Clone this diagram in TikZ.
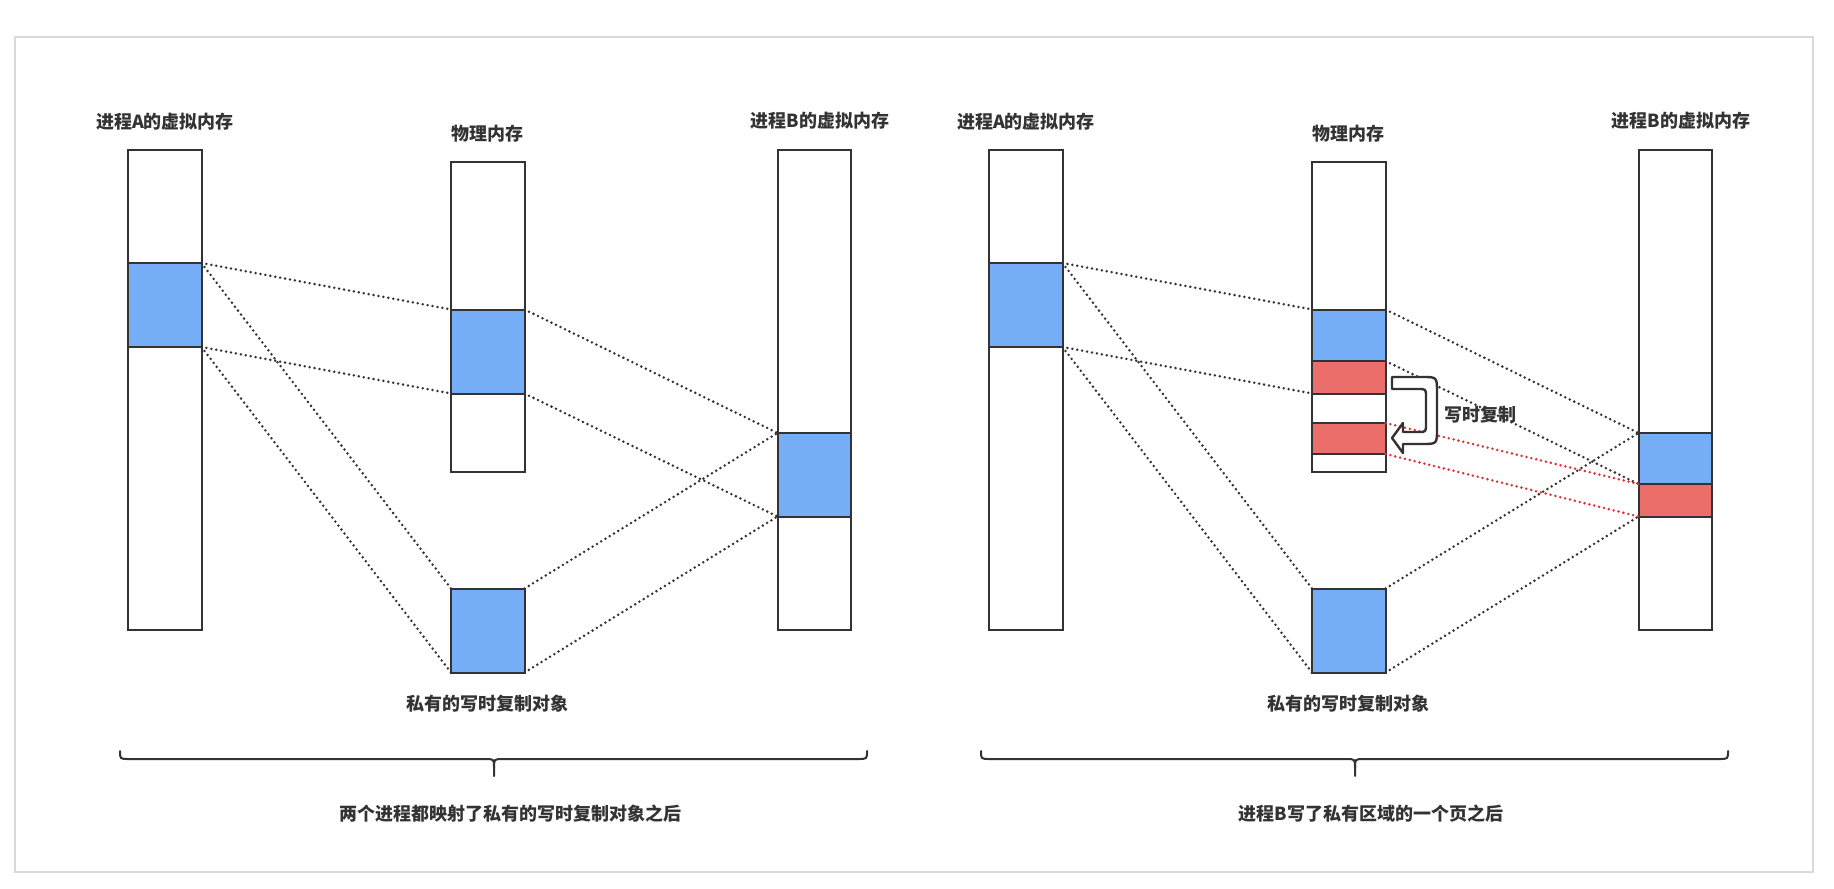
\documentclass[tikz,border=0pt]{standalone}
\usepackage{fontspec}
\setmainfont{Noto Sans CJK SC}
\definecolor{linea}{HTML}{333333}
\definecolor{blu}{HTML}{75AEF7}
\definecolor{rosso}{HTML}{EC6E6B}
\definecolor{rossopunti}{HTML}{D9362F}
\definecolor{bordo}{HTML}{DADADA}

\begin{document}
\begin{tikzpicture}[
    x=0.5pt, y=-0.5pt,
    cella/.style={draw=linea, fill=white, line width=1pt, minimum width=36.75pt, inner sep=0pt, outer sep=0pt},
    pieno/.style={cella, fill=blu},
    scritto/.style={cella, fill=rosso},
    punti/.style={draw=linea, line width=1.4pt, line cap=round, dash pattern=on 0pt off 2.5pt},
    puntirossi/.style={punti, draw=rossopunti},
    etichetta/.style={font=\fontsize{9}{11}\selectfont\bfseries, text=linea, inner sep=0pt},
    graffa/.style={draw=linea, line width=1pt, line cap=round},
    freccia/.style={draw=linea, fill=white, line width=1.2pt, line join=round}
]
    \useasboundingbox (0,0) rectangle (1834,888);

    % 1. Cornice
    \draw[bordo, line width=0.6pt] (15,37) rectangle (1813,872);

    % 2. Pannello sinistro: memorie
    \node[cella, minimum height=239.75pt] (VA1) at (164.75,389.75) {};
    \node[pieno, minimum height=42pt]     (A1)  at (164.75,305) {};
    \node[cella, minimum height=155pt]    (FM1) at (487.75,317) {};
    \node[pieno, minimum height=42pt]     (P1)  at (487.75,351.5) {};
    \node[pieno, minimum height=42pt]     (O1)  at (487.75,630.5) {};
    \node[cella, minimum height=239.75pt] (VB1) at (814.25,389.75) {};
    \node[pieno, minimum height=41.75pt]  (B1)  at (814.25,474.75) {};

    % etichette
    \node[etichetta] (tA1) at (165,122)   {进程A的虚拟内存};
    \node[etichetta] (tF1) at (487.5,134) {物理内存};
    \node[etichetta] (tB1) at (820,121)   {进程B的虚拟内存};
    \node[etichetta] (tO1) at (487.5,704) {私有的写时复制对象};
    \node[etichetta] (tD1) at (510,814)   {两个进程都映射了私有的写时复制对象之后};

    % mappature
    \draw[punti] (A1.north east) -- (P1.north west);
    \draw[punti] (A1.south east) -- (P1.south west);
    \draw[punti] (A1.north east) -- (O1.north west);
    \draw[punti] (A1.south east) -- (O1.south west);
    \draw[punti] (P1.north east) -- (B1.north west);
    \draw[punti] (P1.south east) -- (B1.south west);
    \draw[punti] (O1.north east) -- (B1.north west);
    \draw[punti] (O1.south east) -- (B1.south west);

    % graffa
    \draw[graffa] (120,751) .. controls (120,759) .. (129,759) -- (485,759)
        .. controls (494,759) .. (494,768) -- (494,776);
    \draw[graffa] (494,768) .. controls (494,759) .. (503,759) -- (858,759)
        .. controls (867,759) .. (867,751);

    % 3. Pannello destro: dopo la scrittura di B
    \node[cella, minimum height=239.75pt] (VA2) at (1025.75,389.75) {};
    \node[pieno, minimum height=42pt]     (A2)  at (1025.75,305) {};
    \node[cella, minimum height=155pt]    (FM2) at (1348.75,317) {};
    \node[pieno, minimum height=25.75pt]  (P2)  at (1348.75,335.25) {};
    \node[scritto, minimum height=16.25pt] (R2) at (1348.75,377.25) {};
    \node[scritto, minimum height=15.5pt]  (C2) at (1348.75,438.5) {};
    \node[pieno, minimum height=42pt]     (O2)  at (1348.75,630.5) {};
    \node[cella, minimum height=239.75pt] (VB2) at (1675.25,389.75) {};
    \node[pieno, minimum height=25.5pt]   (B2)  at (1675.25,458.5) {};
    \node[scritto, minimum height=16.25pt] (S2) at (1675.25,500.25) {};

    % etichette
    \node[etichetta] (tA2) at (1026,122)   {进程A的虚拟内存};
    \node[etichetta] (tF2) at (1348.5,134) {物理内存};
    \node[etichetta] (tB2) at (1681,121)   {进程B的虚拟内存};
    \node[etichetta] (tO2) at (1348.5,704) {私有的写时复制对象};
    \node[etichetta] (tD2) at (1371,814)   {进程B写了私有区域的一个页之后};
    \node[etichetta, anchor=west] (tC2) at (1444,415) {写时复制};

    % mappature
    \draw[punti] (A2.north east) -- (P2.north west);
    \draw[punti] (A2.south east) -- (R2.south west);
    \draw[punti] (A2.north east) -- (O2.north west);
    \draw[punti] (A2.south east) -- (O2.south west);
    \draw[punti] (P2.north east) -- (B2.north west);
    \draw[punti] (R2.north east) -- (B2.south west);
    \draw[punti] (O2.north east) -- (B2.north west);
    \draw[punti] (O2.south east) -- (S2.south west);
    \draw[puntirossi] (C2.north east) -- (S2.north west);
    \draw[puntirossi] (C2.south east) -- (S2.south west);

    % freccia di copia
    \draw[freccia] (1392,377) -- (1422,377) .. controls (1437,377) .. (1437,392)
        -- (1437,429) .. controls (1437,444) .. (1422,444) -- (1403,444)
        -- (1403,453) -- (1392,438) -- (1403,423) -- (1403,432) -- (1418,432)
        .. controls (1426,432) .. (1426,424) -- (1426,397)
        .. controls (1426,389) .. (1418,389) -- (1392,389) -- cycle;

    % graffa
    \draw[graffa] (981,751) .. controls (981,759) .. (990,759) -- (1346,759)
        .. controls (1355,759) .. (1355,768) -- (1355,776);
    \draw[graffa] (1355,768) .. controls (1355,759) .. (1364,759) -- (1719,759)
        .. controls (1728,759) .. (1728,751);

\end{tikzpicture}
\end{document}
